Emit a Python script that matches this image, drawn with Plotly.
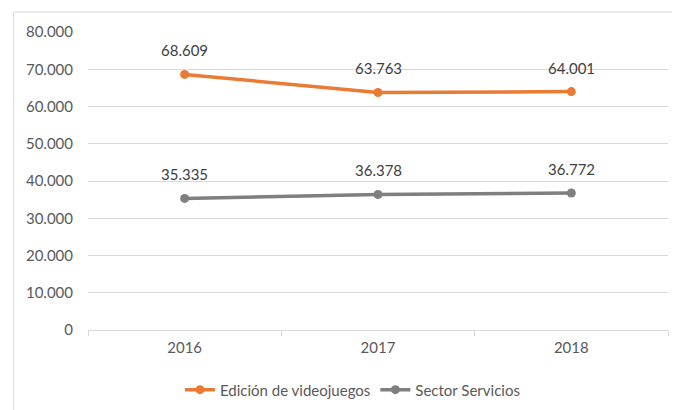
import plotly.graph_objects as go

years = ["2016", "2017", "2018"]
edicion = [68609, 63763, 64001]
servicios = [35335, 36378, 36772]
series_names = ["Edición de videojuegos", "Sector Servicios"]
y_ticks = [0, 10000, 20000, 30000, 40000, 50000, 60000, 70000, 80000]

FONT = "Lato"
TXT = "#595959"

fig = go.Figure()
annotations = []
for name, vals, col in [(series_names[0], edicion, "#E97B35"), (series_names[1], servicios, "#7F7F7F")]:
    fig.add_trace(go.Scatter(
        x=years, y=vals, name=name, mode="lines+markers",
        line=dict(color=col, width=3.5),
        marker=dict(color=col, size=9),
        cliponaxis=False,
    ))
    for i, yv in enumerate(vals):
        annotations.append(dict(
            x=i, y=yv, xref="x", yref="y", text=f"{yv:,}".replace(",", "."),
            showarrow=False, yshift=24, yanchor="middle", xanchor="center",
            font=dict(family=FONT, size=15, color="#404040"),
        ))

fig.update_layout(
    width=680, height=410,
    margin=dict(l=80, r=20, t=24, b=88, autoexpand=False),
    paper_bgcolor="white", plot_bgcolor="white",
    separators=",.",
    font=dict(family=FONT, size=15, color=TXT),
    showlegend=True,
    legend=dict(orientation="h", x=0.456, xanchor="center", y=-0.201, yanchor="middle",
                font=dict(family=FONT, size=15, color=TXT), tracegroupgap=0),
    xaxis=dict(type="category", range=[-0.5, 2.5], showgrid=False, automargin=False,
               showline=True, linecolor="#D9D9D9", linewidth=1,
               ticks="outside", tickson="boundaries", ticklen=5, tickcolor="#D9D9D9",
               ticklabelstandoff=4,
               tickfont=dict(family=FONT, size=15, color=TXT), fixedrange=True),
    yaxis=dict(range=[0, 80000], tickvals=y_ticks, tickformat=",d", automargin=False,
               showgrid=True, gridcolor="#D9D9D9", gridwidth=1, zeroline=False,
               showline=False, ticks="", ticklabelstandoff=14,
               tickfont=dict(family=FONT, size=15, color=TXT), fixedrange=True),
    annotations=annotations,
    shapes=[
        dict(type="line", xref="paper", yref="paper", x0=-0.128, x1=1.03, y0=1.067, y1=1.067,
             line=dict(color="#D9D9D9", width=1)),
        dict(type="line", xref="paper", yref="paper", x0=-0.128, x1=-0.128, y0=1.067, y1=-0.3,
             line=dict(color="#D9D9D9", width=1)),
    ],
)

fig.write_html("out.html")
